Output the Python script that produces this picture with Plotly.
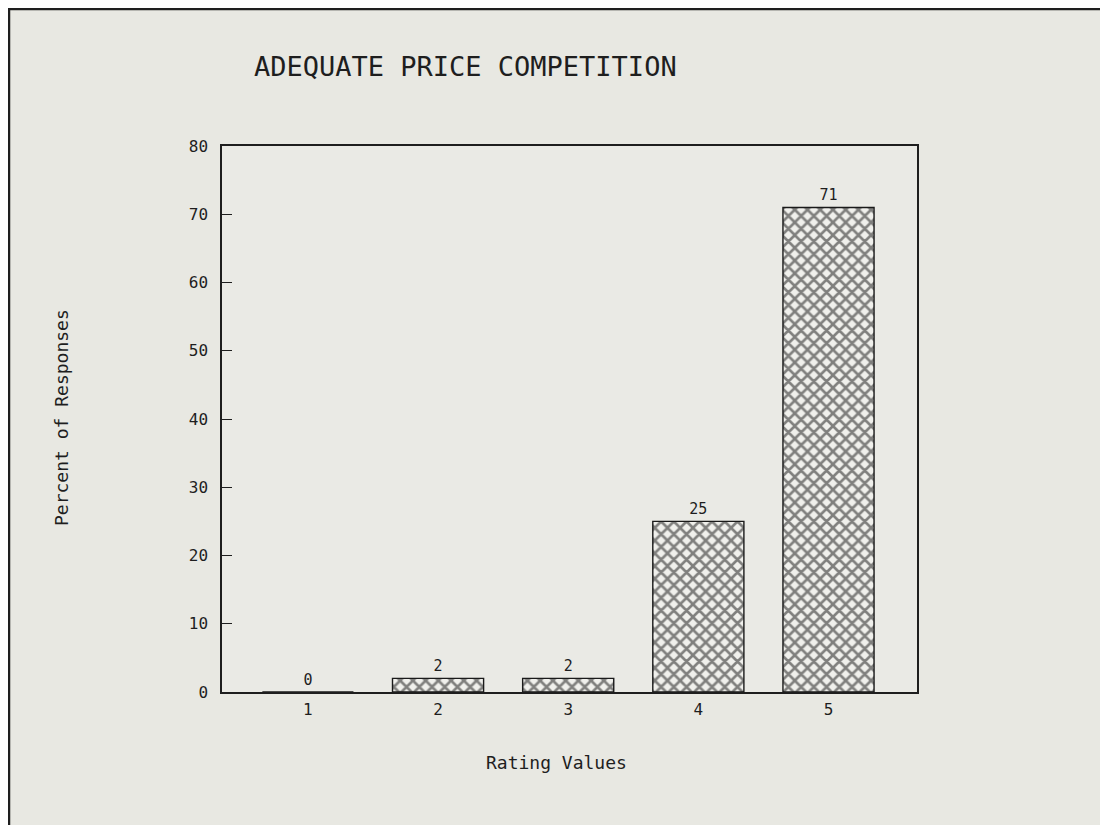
import plotly.graph_objects as go

categories = [1, 2, 3, 4, 5]
percents = [0, 2, 2, 25, 71]
y_ticks = [0, 10, 20, 30, 40, 50, 60, 70, 80]

MONO = "DejaVu Sans Mono"
INK = "#1e1e1e"

# plot area in figure pixels
L, T, W, H = 214, 138, 695, 546
FW, FH = 1108, 825

fig = go.Figure(go.Bar(
    x=categories, y=percents, width=0.7,
    text=[str(v) for v in percents], textposition="outside",
    textfont=dict(family=MONO, size=15, color=INK), cliponaxis=False,
    marker=dict(color="#f0f0ec", line=dict(color="#1a1a1a", width=1.4),
                pattern=dict(shape="x", fgcolor="#0f0f0f", bgcolor="#f0f0ec",
                             size=9, solidity=0.5)),
))

def px_x(px):
    return (px - L) / W

def px_y(py):
    return 1 - (py - T) / H

fig.update_layout(
    width=FW, height=FH,
    margin=dict(l=L, r=FW - L - W, t=T, b=FH - T - H),
    paper_bgcolor="#e8e8e2", plot_bgcolor="#eaeae5",
    showlegend=False,
    xaxis=dict(range=[0.34, 5.68], tickvals=categories, ticktext=[str(c) for c in categories],
               showgrid=False, zeroline=False, showline=True, linecolor=INK, linewidth=1.5,
               mirror=True, ticks="", ticklabelstandoff=2,
               tickfont=dict(family=MONO, size=16, color=INK)),
    yaxis=dict(range=[0, 80], tickvals=y_ticks, showgrid=False, zeroline=False,
               showline=True, linecolor=INK, linewidth=1.5, mirror=True,
               ticks="inside", ticklen=10, tickcolor=INK, tickwidth=1.3,
               ticklabelstandoff=9,
               tickfont=dict(family=MONO, size=16, color=INK)),
    annotations=[
        dict(text="ADEQUATE PRICE COMPETITION", xref="paper", yref="paper",
             x=px_x(457), y=px_y(58), xanchor="center", yanchor="middle", showarrow=False,
             font=dict(family=MONO, size=27, color=INK)),
        dict(text="Rating Values", xref="paper", yref="paper",
             x=px_x(548), y=px_y(754), xanchor="center", yanchor="middle", showarrow=False,
             font=dict(family=MONO, size=18, color=INK)),
        dict(text="Percent of Responses", xref="paper", yref="paper", textangle=-90,
             x=px_x(53), y=px_y(410), xanchor="center", yanchor="middle", showarrow=False,
             font=dict(family=MONO, size=18, color=INK)),
    ],
    shapes=[dict(type="rect", xref="paper", yref="paper",
                 x0=px_x(1), x1=px_x(1098),
                 y0=px_y(900), y1=px_y(1),
                 line=dict(color="#1e1e1e", width=2.5), fillcolor="rgba(0,0,0,0)", layer="below")],
)

fig.write_html("out.html")
